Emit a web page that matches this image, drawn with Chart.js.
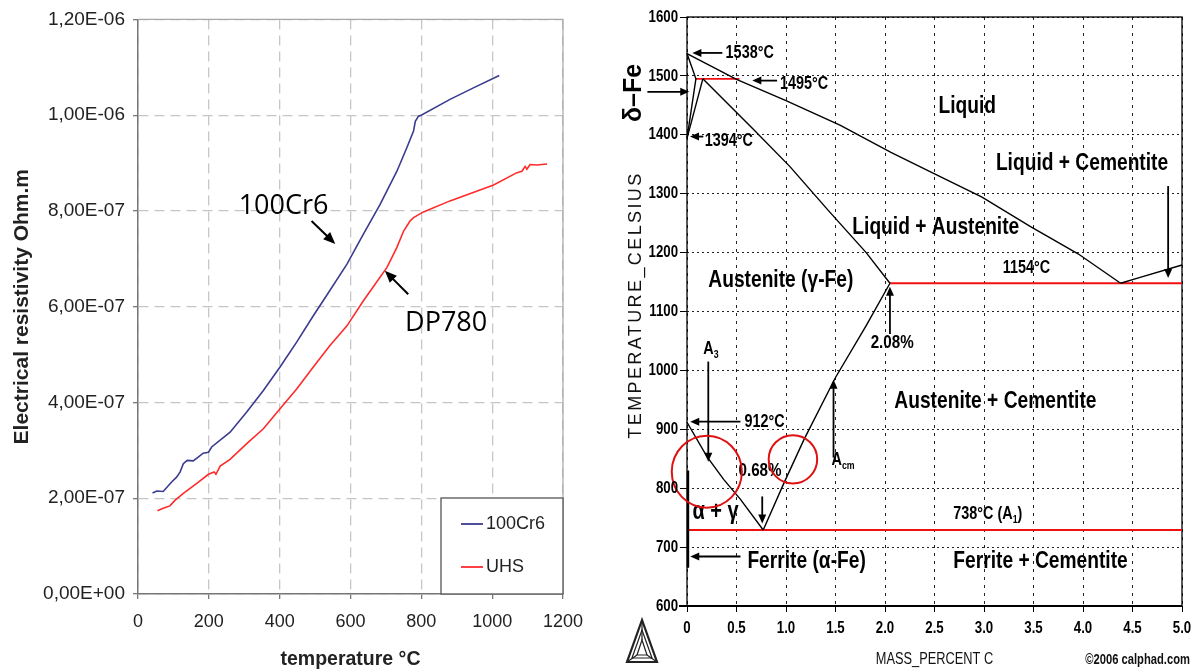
<!DOCTYPE html>
<html>
<head>
<meta charset="utf-8">
<script src="https://cdn.jsdelivr.net/npm/chart.js@4"></script>
<style>
  html, body { margin: 0; padding: 0; background: #fff; }
  #wrap { position: relative; width: 1192px; height: 672px; overflow: hidden; }
  #resChart { position: absolute; left: 0; top: 0; }
  #phaseChart { position: absolute; left: 600px; top: 0; }
</style>
</head>
<body>
<div id="wrap">
  <canvas id="resChart" width="600" height="672"></canvas>
  <canvas id="phaseChart" width="592" height="672"></canvas>
</div>
<script>
// ---------- left chart: electrical resistivity (Ohm.m) vs temperature (°C)
const temp100Cr6 = [41, 53, 71, 95, 109, 119, 128, 139, 156, 170, 184, 199, 208, 260, 307, 354, 401, 448, 495, 533, 590, 636, 684, 731, 759, 778, 783, 792, 797, 881, 947, 1020];
const rho100Cr6 = [2.11e-7, 2.15e-7, 2.14e-7, 2.34e-7, 2.44e-7, 2.55e-7, 2.72e-7, 2.79e-7, 2.78e-7, 2.86e-7, 2.94e-7, 2.96e-7, 3.07e-7, 3.38e-7, 3.80e-7, 4.25e-7, 4.74e-7, 5.26e-7, 5.81e-7, 6.24e-7, 6.89e-7, 7.51e-7, 8.14e-7, 8.83e-7, 9.32e-7, 9.67e-7, 9.87e-7, 9.98e-7, 9.99e-7, 10.33e-7, 10.57e-7, 10.83e-7];

const tempUHS = [55, 71, 90, 105, 128, 166, 199, 215, 220, 232, 260, 307, 354, 401, 448, 495, 542, 590, 636, 703, 731, 750, 768, 778, 806, 881, 1004, 1070, 1084, 1093, 1098, 1107, 1126, 1155];
const rhoUHS = [1.74e-7, 1.79e-7, 1.84e-7, 1.96e-7, 2.10e-7, 2.31e-7, 2.50e-7, 2.55e-7, 2.50e-7, 2.67e-7, 2.81e-7, 3.14e-7, 3.45e-7, 3.87e-7, 4.28e-7, 4.74e-7, 5.19e-7, 5.60e-7, 6.12e-7, 6.82e-7, 7.24e-7, 7.58e-7, 7.79e-7, 7.86e-7, 7.98e-7, 8.21e-7, 8.54e-7, 8.80e-7, 8.83e-7, 8.93e-7, 8.87e-7, 8.97e-7, 8.96e-7, 8.98e-7];

const seriesNames = ["100Cr6", "UHS"];
const seriesColors = ["#3b3b8f", "#ff2b2b"];

// ---------- right chart: Fe-C phase diagram (mass % C vs °C)
const liquidusC = [0, 0.5, 1.0, 1.55, 2.06, 2.47, 2.98, 3.47, 3.95, 4.38];
const liquidusT = [1538, 1494, 1458, 1416, 1370, 1336, 1294, 1244, 1198, 1148];
const solidusC = [0.16, 0.66, 1.04, 1.42, 1.81, 2.05];
const solidusT = [1495, 1411, 1346, 1273, 1200, 1148];
const deltaOuterC = [0, 0.09, 0];
const deltaOuterT = [1538, 1495, 1394];
const deltaInnerC = [0.16, 0];
const deltaInnerT = [1495, 1394];
const a3C = [0, 0.20, 0.37, 0.54, 0.77];
const a3T = [912, 854, 815, 781, 729];
const acmC = [0.77, 0.98, 1.18, 1.50, 1.81, 2.05];
const acmT = [729, 809, 882, 988, 1076, 1148];
const cementiteC = [4.38, 4.56, 5.0];
const cementiteT = [1148, 1157, 1179];
const ferriteC = [0.01, 0.01];
const ferriteT = [830, 665];
const peritecticC = [0.09, 0.53];
const peritecticT = [1495, 1495];
const eutecticC = [2.05, 5.0];
const eutecticT = [1148, 1148];
const eutectoidC = [0, 5.0];
const eutectoidT = [729, 729];

const SANS = "'Liberation Sans', Arial, sans-serif";
const NARROW_X = 0.8; // horizontal squeeze that mimics a narrow bold face

const toPoints = (xs, ys) => xs.map((x, i) => ({ x: x, y: ys[i] }));

const fmtSci = (v) => {
  if (Math.abs(v) < 1e-12) return "0,00E+00";
  let exp = Math.floor(Math.log10(v));
  let mant = v / Math.pow(10, exp);
  if (mant >= 9.995) { mant /= 10; exp++; }
  if (mant < 0.9995) { mant *= 10; exp--; }
  const e = String(Math.abs(exp)).padStart(2, "0");
  return mant.toFixed(2).replace(".", ",") + "E" + (exp < 0 ? "-" : "+") + e;
};

function drawArrow(ctx, x1, y1, x2, y2, head, width, lw) {
  const a = Math.atan2(y2 - y1, x2 - x1);
  const c = Math.cos(a), s = Math.sin(a);
  ctx.lineWidth = lw;
  ctx.beginPath();
  ctx.moveTo(x1, y1);
  ctx.lineTo(x2 - c * head * 0.8, y2 - s * head * 0.8);
  ctx.stroke();
  ctx.beginPath();
  ctx.moveTo(x2, y2);
  ctx.lineTo(x2 - c * head + s * width / 2, y2 - s * head - c * width / 2);
  ctx.lineTo(x2 - c * head - s * width / 2, y2 - s * head + c * width / 2);
  ctx.closePath();
  ctx.fill();
}

// text with optional subscripts, squeezed horizontally by sx
function drawRich(ctx, parts, x, y, size, weight, family, align, sx) {
  const segs = typeof parts === "string" ? [{ t: parts }] : parts.map((p) => Object.assign({}, p));
  const main = `${weight} ${size}px ${family}`;
  const small = `${weight} ${Math.round(size * 0.62)}px ${family}`;
  let total = 0;
  segs.forEach((sg) => { ctx.font = sg.sub ? small : main; sg.w = ctx.measureText(sg.t).width * sx; total += sg.w; });
  let cx = x;
  if (align === "center") cx = x - total / 2;
  if (align === "right") cx = x - total;
  ctx.textAlign = "left";
  ctx.textBaseline = "middle";
  segs.forEach((sg) => {
    ctx.font = sg.sub ? small : main;
    ctx.save();
    ctx.translate(cx, sg.sub ? y + size * 0.32 : y);
    ctx.scale(sx, 1);
    ctx.fillText(sg.t, 0, 0);
    ctx.restore();
    cx += sg.w;
  });
}

// notes are placed in data units and converted by the chart's own scales
const makeNotes = (items) => ({
  id: "notes",
  afterDatasetsDraw(chart) {
    const ctx = chart.ctx;
    const px = (v) => chart.scales.x.getPixelForValue(v);
    const py = (v) => chart.scales.y.getPixelForValue(v);
    items.forEach((it) => {
      ctx.save();
      ctx.fillStyle = it.color || "#000";
      ctx.strokeStyle = it.color || "#000";
      const sx = it.sx === undefined ? NARROW_X : it.sx;
      if (it.type === "text") {
        if (it.rotate) {
          ctx.translate(px(it.x), py(it.y));
          ctx.rotate(-Math.PI / 2);
          drawRich(ctx, it.text, 0, 0, it.size, it.weight || "bold", it.family || SANS, "center", sx);
        } else {
          drawRich(ctx, it.text, px(it.x), py(it.y), it.size, it.weight || "bold", it.family || SANS, it.align || "left", sx);
        }
      } else if (it.type === "arrow") {
        drawArrow(ctx, px(it.x1), py(it.y1), px(it.x2), py(it.y2), it.head, it.width, it.lw);
      } else if (it.type === "ellipse") {
        const cx = px(it.x), cy = py(it.y);
        const rx = Math.abs(px(it.x + it.rx) - cx), ry = Math.abs(py(it.y + it.ry) - cy);
        ctx.lineWidth = 2;
        ctx.beginPath();
        ctx.ellipse(cx, cy, rx, ry, 0, 0, Math.PI * 2);
        ctx.stroke();
      }
      ctx.restore();
    });
  }
});

// ---------- left chart
const frameLeft = {
  id: "frameLeft",
  beforeDatasetsDraw(chart) {
    const { ctx, chartArea: a } = chart;
    ctx.save();
    ctx.strokeStyle = "#a8a8a8";
    ctx.lineWidth = 1.2;
    ctx.beginPath();
    ctx.moveTo(a.left, a.top); ctx.lineTo(a.right, a.top); ctx.lineTo(a.right, a.bottom);
    ctx.stroke();
    ctx.restore();
  }
};

const legendBox = {
  id: "legendBox",
  afterDatasetsDraw(chart) {
    const { ctx, chartArea: a } = chart;
    const w = 122, h = 96;
    const x0 = a.right - w, y0 = a.bottom - h;
    ctx.save();
    ctx.fillStyle = "#fff";
    ctx.fillRect(x0, y0, w, h);
    ctx.strokeStyle = "#555";
    ctx.lineWidth = 1.3;
    ctx.strokeRect(x0, y0, w, h);
    chart.data.datasets.forEach((ds, i) => {
      const yy = y0 + 26 + i * 43;
      ctx.strokeStyle = ds.borderColor;
      ctx.lineWidth = 1.8;
      ctx.beginPath(); ctx.moveTo(x0 + 20, yy); ctx.lineTo(x0 + 42, yy); ctx.stroke();
      ctx.fillStyle = "#222";
      ctx.font = `18px ${SANS}`;
      ctx.textBaseline = "middle";
      ctx.fillText(ds.label, x0 + 45, yy);
    });
    ctx.restore();
  }
};

const notesLeft = makeNotes([
  { type: "text", text: "100Cr6", x: 411, y: 8.10e-7, size: 27, weight: "normal", family: "'Open Sans', 'Noto Sans', sans-serif", align: "center", sx: 1 },
  { type: "arrow", x1: 490, y1: 7.79e-7, x2: 557, y2: 7.31e-7, head: 12, width: 10, lw: 2 },
  { type: "text", text: "DP780", x: 870, y: 5.65e-7, size: 27, weight: "normal", family: "'Open Sans', 'Noto Sans', sans-serif", align: "center", sx: 1 },
  { type: "arrow", x1: 763, y1: 6.26e-7, x2: 697, y2: 6.75e-7, head: 12, width: 10, lw: 2 }
]);

new Chart(document.getElementById("resChart"), {
  type: "line",
  data: {
    datasets: [
      { label: seriesNames[0], data: toPoints(temp100Cr6, rho100Cr6), borderColor: seriesColors[0], borderWidth: 1.6, pointRadius: 0, tension: 0 },
      { label: seriesNames[1], data: toPoints(tempUHS, rhoUHS), borderColor: seriesColors[1], borderWidth: 1.6, pointRadius: 0, tension: 0 }
    ]
  },
  options: {
    responsive: false,
    animation: false,
    events: [],
    layout: { padding: { top: 18, right: 37, left: 0, bottom: 0 } },
    plugins: { legend: { display: false }, tooltip: { enabled: false } },
    scales: {
      x: {
        type: "linear", min: 0, max: 1200,
        ticks: { stepSize: 200, color: "#222", font: { family: SANS, size: 18 }, padding: 12, maxRotation: 0, callback: (v) => String(v) },
        grid: { color: "#c6c6c6", lineWidth: 1.3, tickLength: 5, tickColor: "#777", tickBorderDash: [] },
        border: { display: true, color: "#777", width: 1.5, dash: [10, 6] },
        title: { display: true, text: "temperature °C", color: "#222", font: { family: SANS, size: 19.5, weight: "bold" }, padding: { top: 0, bottom: 1 } },
        afterFit: (s) => { s.height = 78; }
      },
      y: {
        type: "linear", min: 0, max: 1.2e-6,
        ticks: { stepSize: 2e-7, color: "#222", font: { family: SANS, size: 19 }, padding: 8, callback: (v) => fmtSci(v) },
        grid: { color: "#c6c6c6", lineWidth: 1.3, tickLength: 5, tickColor: "#777", tickBorderDash: [] },
        border: { display: true, color: "#777", width: 1.5, dash: [10, 6] },
        title: { display: true, text: "Electrical resistivity Ohm.m", color: "#222", font: { family: SANS, size: 21, weight: "bold" }, padding: { top: 10, bottom: 0 } },
        afterFit: (s) => { s.width = 138; }
      }
    }
  },
  plugins: [frameLeft, legendBox, notesLeft]
});

// ---------- right chart
const phaseLines = [
  [liquidusC, liquidusT, "#000", 1.4],
  [solidusC, solidusT, "#000", 1.4],
  [deltaOuterC, deltaOuterT, "#000", 1.4],
  [deltaInnerC, deltaInnerT, "#000", 1.4],
  [a3C, a3T, "#000", 1.4],
  [acmC, acmT, "#000", 1.4],
  [cementiteC, cementiteT, "#000", 1.4],
  [ferriteC, ferriteT, "#000", 2.4],
  [peritecticC, peritecticT, "#f01010", 1.8],
  [eutecticC, eutecticT, "#f01010", 1.8],
  [eutectoidC, eutectoidT, "#f01010", 1.8]
];

const fmtMass = (v) => (v === 0 ? "0" : v.toFixed(1));

const framePhase = {
  id: "framePhase",
  beforeDatasetsDraw(chart) {
    const { ctx, chartArea: a } = chart;
    ctx.save();
    ctx.strokeStyle = "#000";
    ctx.lineWidth = 1.3;
    ctx.strokeRect(a.left, a.top, a.right - a.left, a.bottom - a.top);
    ctx.lineWidth = 2.2;
    ctx.beginPath(); ctx.moveTo(a.left - 8, a.bottom); ctx.lineTo(a.right, a.bottom); ctx.stroke();
    ctx.restore();
  },
  afterDraw(chart) {
    const { ctx, chartArea: a } = chart;
    const xs = chart.scales.x, ys = chart.scales.y;
    ctx.save();
    ctx.fillStyle = "#000";
    // tick labels from the scales' own ticks, in a squeezed bold face
    ys.ticks.forEach((t) => drawRich(ctx, String(t.value), a.left - 9, ys.getPixelForValue(t.value), 17, "bold", SANS, "right", 0.78));
    xs.ticks.forEach((t) => drawRich(ctx, fmtMass(t.value), xs.getPixelForValue(t.value), 628, 17, "bold", SANS, "center", 0.78));
    ctx.restore();

    ctx.save();
    ctx.fillStyle = "#111";
    ctx.translate(36, 305);
    ctx.rotate(-Math.PI / 2);
    ctx.font = `18px ${SANS}`;
    try { ctx.letterSpacing = "2.4px"; } catch (e) {}
    ctx.textAlign = "center";
    ctx.textBaseline = "middle";
    ctx.fillText("TEMPERATURE_CELSIUS", 0, 0);
    ctx.restore();

    ctx.save();
    ctx.fillStyle = "#111";
    drawRich(ctx, "MASS_PERCENT C", (a.left + a.right) / 2, 660, 16, "normal", SANS, "center", 0.8);
    drawRich(ctx, "©2006 calphad.com", 590, 660, 14, "bold", SANS, "right", 0.8);
    // calphad triangle logo
    ctx.strokeStyle = "#222";
    ctx.lineWidth = 2.2;
    ctx.beginPath(); ctx.moveTo(42, 620); ctx.lineTo(27, 662); ctx.lineTo(57, 662); ctx.closePath(); ctx.stroke();
    ctx.lineWidth = 1.2;
    ctx.beginPath(); ctx.moveTo(42, 630); ctx.lineTo(32, 658); ctx.lineTo(52, 658); ctx.closePath(); ctx.stroke();
    ctx.beginPath(); ctx.moveTo(42, 640); ctx.lineTo(37, 655); ctx.lineTo(47, 655); ctx.closePath(); ctx.stroke();
    ctx.beginPath();
    ctx.moveTo(42, 620); ctx.lineTo(42, 640);
    ctx.moveTo(27, 662); ctx.lineTo(37, 655);
    ctx.moveTo(57, 662); ctx.lineTo(47, 655);
    ctx.stroke();
    ctx.restore();
  }
};

const arrowR = (x1, y1, x2, y2) => ({ type: "arrow", x1, y1, x2, y2, head: 9, width: 8, lw: 1.8 });

const notesPhase = makeNotes([
  { type: "text", text: "Liquid", x: 2.54, y: 1448, size: 24 },
  { type: "text", text: "Liquid + Cementite", x: 3.12, y: 1351, size: 24 },
  { type: "text", text: "Liquid + Austenite", x: 1.67, y: 1242, size: 24 },
  { type: "text", text: "Austenite (γ-Fe)", x: 0.215, y: 1152, size: 24 },
  { type: "text", text: "Austenite + Cementite", x: 2.094, y: 948, size: 24 },
  { type: "text", text: "Ferrite (α-Fe)", x: 0.61, y: 675, size: 24 },
  { type: "text", text: "Ferrite + Cementite", x: 2.69, y: 675, size: 24 },
  { type: "text", text: "α + γ", x: 0.055, y: 759, size: 25 },
  { type: "text", text: "1538°C", x: 0.39, y: 1538, size: 18 },
  { type: "text", text: "1495°C", x: 0.94, y: 1486, size: 18 },
  { type: "text", text: "1394°C", x: 0.18, y: 1389, size: 18 },
  { type: "text", text: "912°C", x: 0.58, y: 912, size: 18 },
  { type: "text", text: "0.68%", x: 0.52, y: 830, size: 19 },
  { type: "text", text: [{ t: "A" }, { t: "3", sub: true }], x: 0.165, y: 1036, size: 18 },
  { type: "text", text: [{ t: "A" }, { t: "cm", sub: true }], x: 1.46, y: 847, size: 18 },
  { type: "text", text: "2.08%", x: 1.855, y: 1047, size: 19 },
  { type: "text", text: "1154°C", x: 3.19, y: 1174, size: 18 },
  { type: "text", text: [{ t: "738°C (A" }, { t: "1", sub: true }, { t: ")" }], x: 2.69, y: 756, size: 18 },
  { type: "text", text: "δ–Fe", x: -0.53, y: 1471, size: 25, rotate: true, sx: 1 },
  arrowR(0.357, 1539, 0.054, 1539),
  arrowR(0.91, 1492, 0.66, 1492),
  arrowR(-0.40, 1473, 0.023, 1473),
  arrowR(0.165, 1397, 0.03, 1397),
  arrowR(0.54, 913, 0.033, 913),
  arrowR(0.215, 1015, 0.215, 845),
  arrowR(0.76, 786, 0.76, 740),
  arrowR(1.48, 852, 1.48, 984),
  arrowR(2.05, 1062, 2.05, 1142),
  arrowR(4.86, 1313, 4.86, 1157),
  arrowR(0.54, 684, 0.033, 684),
  { type: "ellipse", x: 0.20, y: 828, rx: 0.354, ry: 61, color: "#e01010" },
  { type: "ellipse", x: 1.07, y: 849, rx: 0.245, ry: 41, color: "#e01010" }
]);

new Chart(document.getElementById("phaseChart"), {
  type: "scatter",
  data: {
    datasets: phaseLines.map(([cs, ts, color, w]) => ({
      data: toPoints(cs, ts), showLine: true, borderColor: color, borderWidth: w,
      pointRadius: 0, tension: 0, clip: 4
    }))
  },
  options: {
    responsive: false,
    animation: false,
    events: [],
    layout: { padding: { top: 17, right: 10, left: 0, bottom: 0 } },
    plugins: { legend: { display: false }, tooltip: { enabled: false } },
    scales: {
      x: {
        type: "linear", min: 0, max: 5,
        ticks: { display: false, stepSize: 0.5, maxRotation: 0 },
        grid: { color: "#222", lineWidth: 1, tickLength: 6, tickColor: "#000", tickBorderDash: [] },
        border: { display: false, dash: [3, 5] },
        afterFit: (s) => { s.height = 66; }
      },
      y: {
        type: "linear", min: 600, max: 1600,
        ticks: { display: false, stepSize: 100 },
        grid: { color: "#222", lineWidth: 1, tickLength: 7, tickColor: "#000", tickBorderDash: [] },
        border: { display: false, dash: [2, 3] },
        afterFit: (s) => { s.width = 87; }
      }
    }
  },
  plugins: [framePhase, notesPhase]
});
</script>
</body>
</html>
